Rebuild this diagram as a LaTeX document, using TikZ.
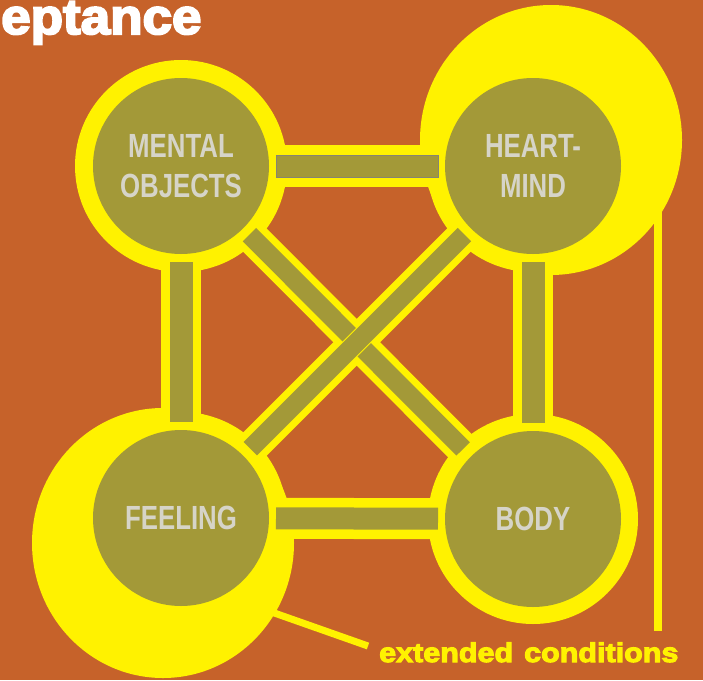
\documentclass[tikz,border=0pt]{standalone}
\usepackage{fontspec}
\setmainfont{Liberation Sans}
\newfontfamily\condfont[FakeStretch=0.77]{Liberation Sans}
\newfontfamily\heavyfont[FakeStretch=1.06,FakeBold=4]{Liberation Sans}
\newfontfamily\widefont[FakeStretch=1.13,FakeBold=4]{Liberation Sans}
\usetikzlibrary{calc}
\definecolor{bgor}{HTML}{C6622A}
\definecolor{yel}{HTML}{FFF200}
\definecolor{olv}{HTML}{A39938}
\definecolor{txg}{HTML}{D6D4C8}
\pgfdeclarelayer{back}
\pgfdeclarelayer{ylayer}
\pgfdeclarelayer{olayer}
\pgfsetlayers{back,ylayer,olayer,main}
\tikzset{
  core/.style={circle,fill=olv,minimum size=176pt,inner sep=0pt,text=txg,
    font=\condfont\bfseries\fontsize{33.5}{40}\selectfont,align=center},
  ybar/.style={draw=yel,line width=#1,line cap=butt},
  obar/.style={draw=olv,line width=#1,line cap=butt},
  yline/.style={draw=yel,line width=#1,line cap=butt},
}
\begin{document}
\begin{tikzpicture}[x=1pt,y=-1pt]
\useasboundingbox (0,0) rectangle (703,680);
\begin{pgfonlayer}{back}
\fill[bgor] (0,0) rectangle (703,680);
\end{pgfonlayer}
\clip (0,0) rectangle (703,680);

% nodes
\node[core] (M) at (181,166) {MENTAL\\OBJECTS};
\node[core] (H) at (533,166) {HEART-\\MIND};
\node[core] (F) at (181,518) {FEELING};
\node[core] (B) at (533,519) {BODY};
\coordinate (HX) at (551,140);
\coordinate (FX) at (163,543);
\coordinate (lv) at (658,631);
\coordinate (lt) at (368,646);

\begin{pgfonlayer}{ylayer}
% extended halos
\fill[yel] (HX) ellipse[x radius=131,y radius=135];
\fill[yel] (FX) ellipse[x radius=131,y radius=135];
% rings
\foreach \n/\r in {M/106,H/106,F/106,B/105} \fill[yel] (\n) circle[radius=\r];
% yellow bars
\draw[ybar=42] ($(M)!80pt!(H)$) -- ($(H)!80pt!(M)$);
\draw[ybar=41] ($(F)!80pt!(B)$) -- ($(B)!80pt!(F)$);
\draw[ybar=40] ($(M)!80pt!(F)$) -- ($(F)!80pt!(M)$);
\draw[ybar=40] ($(H)!80pt!(B)$) -- ($(B)!80pt!(H)$);
\draw[ybar=33] ($(M)!80pt!(B)$) -- ($(B)!80pt!(M)$);
\draw[ybar=33] ($(H)!80pt!(F)$) -- ($(F)!80pt!(H)$);
% lines to the label
\draw[yline=8] ($(HX)+(107,60)$) -- (lv);
\draw[yline=7] ($(FX)+(100,66)$) -- (lt);
\end{pgfonlayer}

\begin{pgfonlayer}{olayer}
\draw[obar=22] ($(M)!95pt!(H)$) -- ($(H)!95pt!(M)$);
\draw[draw=gray!80!olv,line width=0.6pt] ($(M)!95pt!(H)+(0,-11)$) rectangle ($(H)!95pt!(M)+(0,11)$);
\draw[obar=22] ($(F)!95pt!(B)$) -- ($(B)!95pt!(F)$);
\draw[obar=23] ($(M)!96pt!(F)$) -- ($(F)!96pt!(M)$);
\draw[obar=23] ($(H)!96pt!(B)$) -- ($(B)!96pt!(H)$);
\draw[obar=19] ($(M)!97pt!(B)$) -- ($(B)!99pt!(M)$);
\draw[ybar=21] ($(H)!97pt!(F)$) -- ($(F)!98pt!(H)$);
\draw[obar=19] ($(H)!97pt!(F)$) -- ($(F)!98pt!(H)$);
\end{pgfonlayer}

% texts
\node[anchor=base west,inner sep=0pt,text=white,font=\heavyfont\bfseries\fontsize{50}{50}\selectfont] (title) at (1,34) {eptance};
\node[anchor=base west,inner sep=0pt,text=yel,font=\widefont\bfseries\fontsize{27}{27}\selectfont] (ext) at (379,662) {extended\hspace{11pt}conditions};
\end{tikzpicture}
\end{document}
